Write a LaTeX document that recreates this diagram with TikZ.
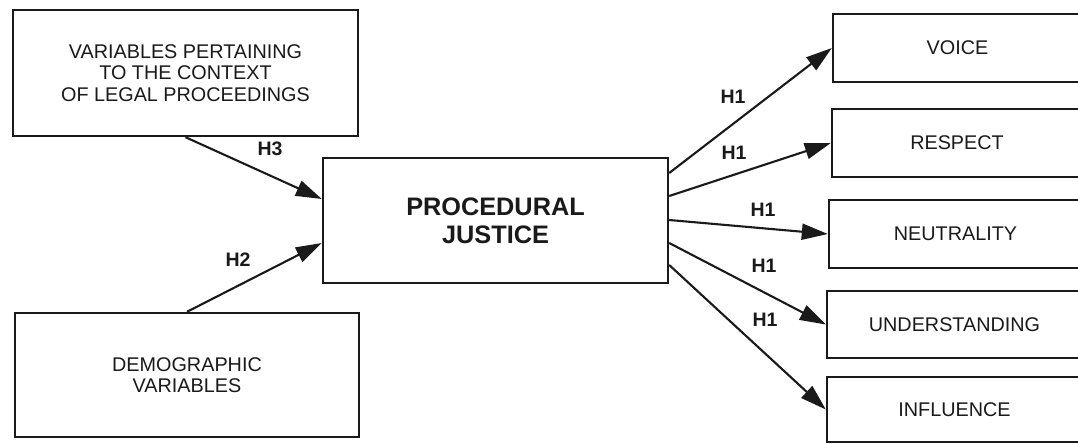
\documentclass[tikz,border=0pt]{standalone}
\usepackage{fontspec}
\setmainfont{Liberation Sans}
\usetikzlibrary{arrows.meta,calc}
\definecolor{ink}{HTML}{1A1A1A}
\begin{document}
\begin{tikzpicture}[x=1pt,y=-1pt,
  box/.style={draw=ink,line width=2.4pt,fill=white,inner sep=0pt,align=center,
    text=ink,font=\fontsize{19.8}{21.5}\selectfont},
  bigbox/.style={box,font=\fontsize{25.3}{28}\selectfont\bfseries},
  hlab/.style={text=ink,font=\fontsize{19.5}{21}\selectfont\bfseries,inner sep=0pt},
  conn/.style={draw=ink,line width=2.1pt,-{Triangle[length=26pt,width=16pt]}}]
\useasboundingbox (0,0) rectangle (1078,444);
\clip (0,0) rectangle (1078,444);
\fill[white] (0,0) rectangle (1078,444);
% left boxes
\node[box,minimum width=345pt,minimum height=126pt] (ctx) at (185.5,73)
  {VARIABLES PERTAINING\\TO THE CONTEXT\\OF LEGAL PROCEEDINGS};
\node[box,minimum width=344pt,minimum height=124pt] (dem) at (187,375)
  {DEMOGRAPHIC\\VARIABLES};
% centre
\node[bigbox,minimum width=345pt,minimum height=125pt] (pj) at (495.5,220.5)
  {PROCEDURAL\\JUSTICE};
% right boxes
\node[box,minimum width=249pt,minimum height=68pt] (voice) at (957.5,48) {VOICE};
\node[box,minimum width=250pt,minimum height=68pt] (resp) at (957,143) {RESPECT};
\node[box,minimum width=253pt,minimum height=68pt] (neut) at (955.5,234) {NEUTRALITY};
\node[box,minimum width=255pt,minimum height=67pt] (und) at (954.5,324.5) {UNDERSTANDING};
\node[box,minimum width=255pt,minimum height=65pt] (infl) at (954.5,409.5) {INFLUENCE};
% connectors
\draw[conn] (ctx.south) -- ($(pj.west)+(0,-21.5)$);
\draw[conn] (dem.north) -- ($(pj.west)+(0,22.5)$);
\draw[conn] ($(pj.east)+(0,-47.5)$) -- (voice.west);
\draw[conn] ($(pj.east)+(0,-24.5)$) -- (resp.west);
\draw[conn] ($(pj.east)+(0,-0.5)$) -- (neut.west);
\draw[conn] ($(pj.east)+(0,22.5)$) -- (und.west);
\draw[conn] ($(pj.east)+(0,44.5)$) -- (infl.west);
% labels
\node[hlab] (h3) at (270,149) {H3};
\node[hlab] (h2) at (238,260) {H2};
\node[hlab] (h1a) at (733,97) {H1};
\node[hlab] (h1b) at (734,153) {H1};
\node[hlab] (h1c) at (763,210) {H1};
\node[hlab] (h1d) at (764,266) {H1};
\node[hlab] (h1e) at (765,320) {H1};
\end{tikzpicture}
\end{document}
